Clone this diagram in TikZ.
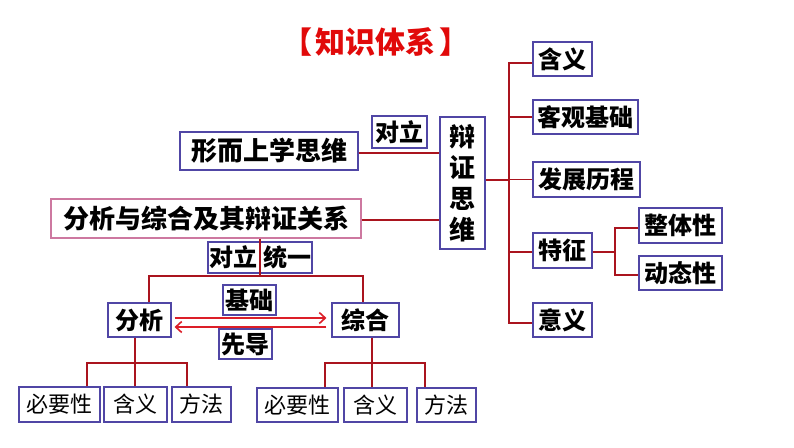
\documentclass[tikz,border=0pt]{standalone}
\usepackage{fontspec}
\setmainfont{Noto Sans CJK SC}
\usetikzlibrary{arrows.meta}
\definecolor{boxc}{RGB}{80,70,165}
\definecolor{pinkc}{RGB}{205,120,160}
\definecolor{linec}{RGB}{170,20,30}
\definecolor{arrc}{RGB}{220,30,40}
\definecolor{titlec}{RGB}{225,10,10}
\tikzset{
  x=1pt, y=-1pt,
  bx/.style 2 args={draw=boxc, line width=1.1pt, inner sep=0pt, minimum width=#1pt, minimum height=#2pt, fill=white},
  big/.style={font=\fontsize{26}{31}\selectfont\bfseries},
  mid/.style={font=\fontsize{24}{28}\selectfont\bfseries},
  leaf/.style={font=\fontsize{22}{26}\selectfont},
  ln/.style={draw=linec, line width=1.8pt},
  arr/.style={draw=arrc, line width=1.8pt, -{Straight Barb[length=6pt,width=11pt,line width=1.6pt]}},
}
\begin{document}
\begin{tikzpicture}
\useasboundingbox (0,0) rectangle (794,447);

% title
\node[font=\fontsize{30}{34}\selectfont\bfseries, text=titlec] (title) at (376,42) {【\hspace{4pt}知识体系\hspace{4pt}】};

% coordinates for connector joints
\coordinate (tr) at (509,0);
\coordinate (tz2) at (615,0);
\coordinate (j1) at (260,276);
\coordinate (a1) at (149,276);
\coordinate (a2) at (363,276);
\coordinate (l1) at (87,363);
\coordinate (l2) at (135,363);
\coordinate (l3) at (187,363);
\coordinate (r1) at (325,363);
\coordinate (r2) at (372,363);
\coordinate (r3) at (425,363);

\node[bx={178}{38}, big] (xs) at (269,151) {形而上学思维};
\node[bx={310}{39}, big, draw=pinkc] (fx) at (206,218.5) {分析与综合及其辩证关系};
\node[bx={45}{132}, big, align=center] (bz) at (462.5,183) {辩\\证\\思\\维};
\node[bx={59}{34}, mid] (hy) at (562.5,59) {含义};
\node[bx={105}{34}, mid] (kg) at (585.5,117) {客观基础};
\node[bx={107}{35}, mid] (fz) at (586.5,179.5) {发展历程};
\node[bx={59}{35}, mid] (tz) at (562.5,250.5) {特征};
\node[bx={59}{34}, mid] (yy) at (562.5,320) {意义};
\node[bx={83}{35}, mid] (zt) at (680.5,225.5) {整体性};
\node[bx={83}{34}, mid] (dt) at (680.5,273) {动态性};

\draw[ln] ([yshift=-2pt]xs.east) -- ([yshift=-2pt]xs.east -| bz.west);
\draw[ln] ([yshift=-1.5pt]fx.east) -- ([yshift=-1.5pt]fx.east -| bz.west);
\node[bx={55}{32}, mid] (dl1) at (399.5,132) {对立};

\draw[ln] ([yshift=3pt]bz.east) -- ([yshift=3pt]bz.east -| tr);
\draw[ln] ([yshift=-4pt]hy.west) -- ([yshift=-4pt]hy.west -| tr) -- ([yshift=-3pt]yy.west -| tr) -- ([yshift=-3pt]yy.west);
\draw[ln] (kg.west) -- (kg.west -| tr);
\draw[ln] (fz.west) -- (fz.west -| tr);
\draw[ln] ([yshift=-1.5pt]tz.west) -- ([yshift=-1.5pt]tz.west -| tr);
\draw[ln] ([yshift=-1.5pt]tz.east) -- ([yshift=-1.5pt]tz.east -| tz2);
\draw[ln] ([yshift=-2.5pt]zt.west) -- ([yshift=-2.5pt]zt.west -| tz2) -- ([yshift=-2pt]dt.west -| tz2) -- ([yshift=-2pt]dt.west);

% lower part
\node[bx={104}{31}] (dltz) at (260,257.5) {};
\node[mid] (dlt) at (233,257.5) {对立};
\node[mid] (tyi) at (287,257.5) {统一};
\node[bx={63}{34}, mid] (fxa) at (139.5,320) {分析};
\node[bx={67}{34}, mid] (zh) at (365.5,320) {综合};
\draw[ln] (fx.south -| j1) -- (j1);
\draw[ln] (a1 |- fxa.north) -- (a1) -- (a2) -- (a2 |- zh.north);

\node[bx={53}{30}, mid] (jc) at (249.5,300) {基础};
\node[bx={53}{30}, mid] (xd) at (245.5,344) {先导};
\draw[arr] ([xshift=3pt,yshift=2pt]fxa.east) -- ([xshift=-5pt,yshift=2pt]zh.west);
\draw[arr] ([xshift=-5pt,yshift=-7pt]zh.west) -- ([xshift=3pt,yshift=-7pt]fxa.east);

\node[bx={81}{35}, leaf] (b1) at (59.5,404.5) {必要性};
\node[bx={63}{35}, leaf] (b2) at (135.5,404.5) {含义};
\node[bx={59}{35}, leaf] (b3) at (201.5,404.5) {方法};
\node[bx={81}{34}, leaf] (b4) at (297.5,405) {必要性};
\node[bx={63}{34}, leaf] (b5) at (375.5,405) {含义};
\node[bx={59}{34}, leaf] (b6) at (446.5,405) {方法};

\draw[ln] (fxa.south -| l2) -- (l2);
\draw[ln] (l1 |- b1.north) -- (l1) -- (l3) -- (l3 |- b3.north);
\draw[ln] (l2) -- (l2 |- b2.north);
\draw[ln] (zh.south -| r2) -- (r2);
\draw[ln] (r1 |- b4.north) -- (r1) -- (r3) -- (r3 |- b6.north);
\draw[ln] (r2) -- (r2 |- b5.north);
\end{tikzpicture}
\end{document}
